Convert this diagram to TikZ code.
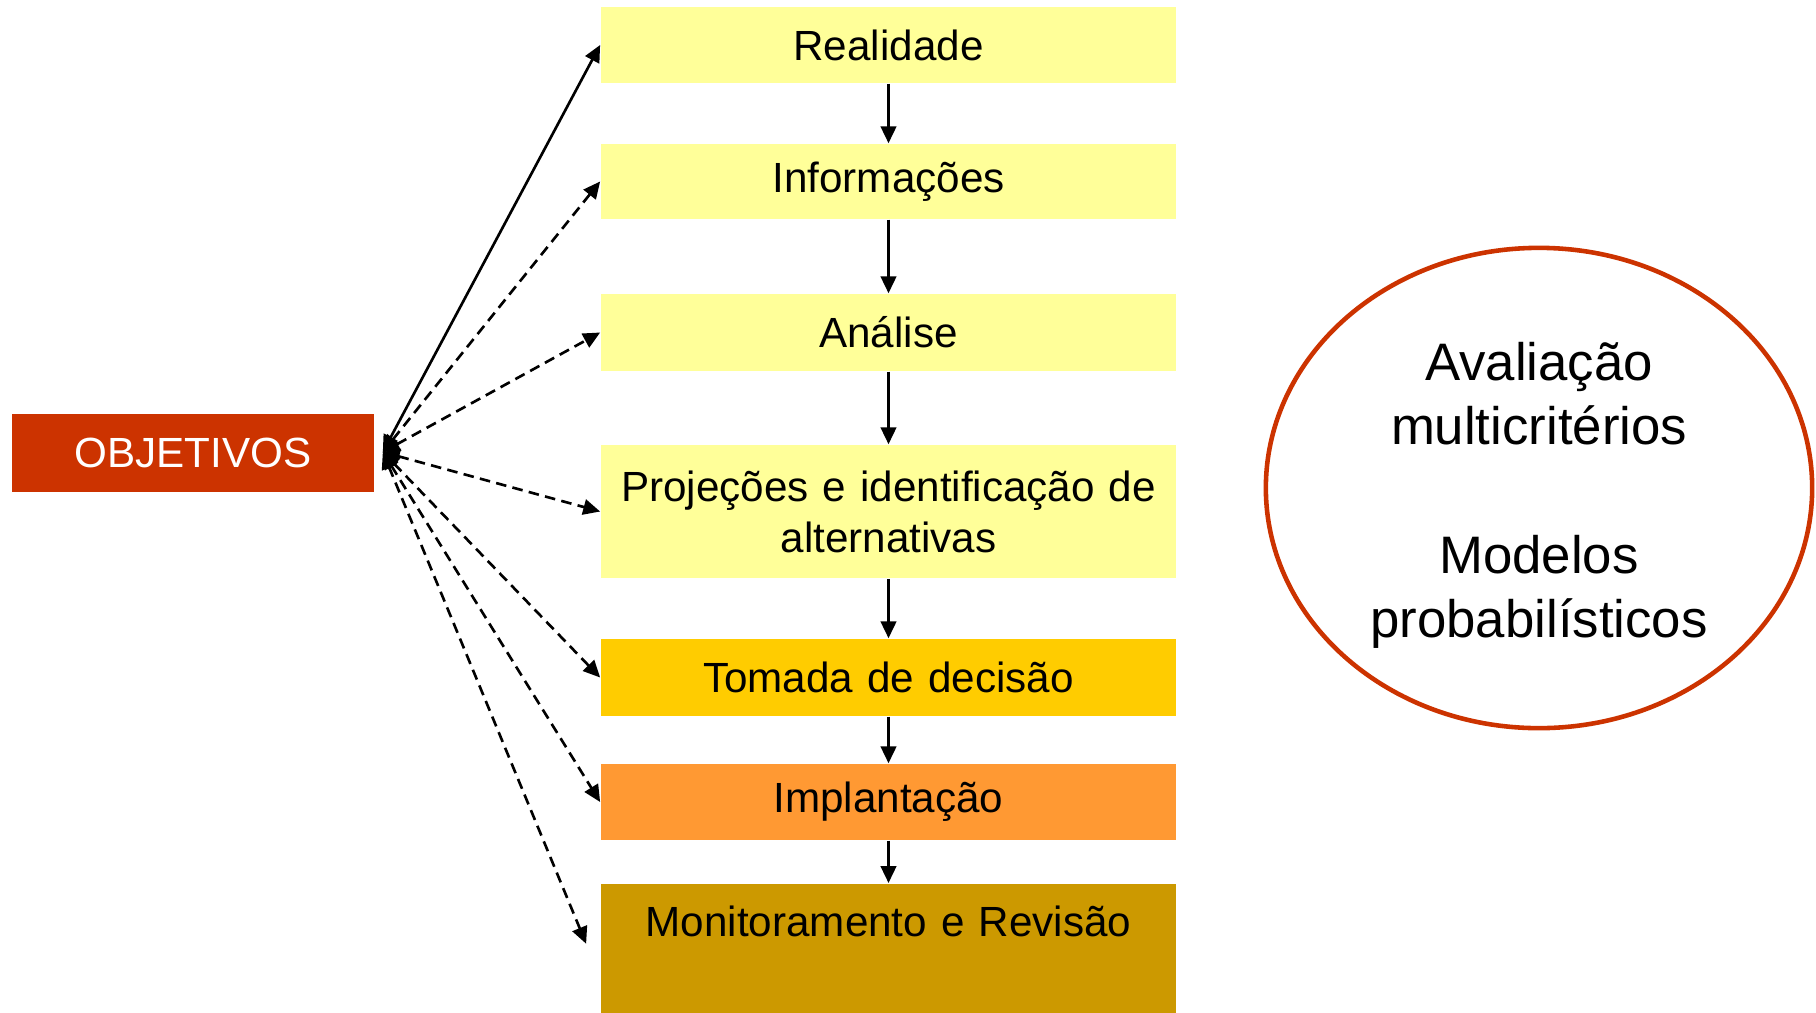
\documentclass[tikz,border=0pt]{standalone}
\usepackage{fontspec}
\setmainfont{Liberation Sans}
\usetikzlibrary{arrows.meta,shapes.geometric,calc}
\definecolor{amarelo}{HTML}{FFFF99}
\definecolor{ouro}{HTML}{FFCC00}
\definecolor{laranja}{HTML}{FF9933}
\definecolor{mostarda}{HTML}{CC9900}
\definecolor{telha}{HTML}{CC3300}
\tikzset{
  etapa/.style={fill=#1, minimum width=5.75cm, text width=5.5cm, align=center, inner sep=0pt,
    font=\fontsize{12pt}{14.5pt}\selectfont},
  ligacao/.style={line width=0.75pt},
}
\begin{document}
\begin{tikzpicture}[>={Triangle[length=4.8pt,width=4.4pt]}, x=0.01cm, y=-0.01cm]
\useasboundingbox (0,0) rectangle (1816,1012);
% etapas do processo
\node[etapa=amarelo, minimum height=0.76cm] (real) at (888.5,45) {Realidade};
\node[etapa=amarelo, minimum height=0.75cm] (info) at (888.5,181.5) {Informações};
\node[etapa=amarelo, minimum height=0.77cm] (anal) at (888.5,332.5) {Análise};
\node[etapa=amarelo, minimum height=1.33cm] (proj) at (888.5,511.5) {Projeções e identificação de\\alternativas};
\node[etapa=ouro, minimum height=0.77cm] (toma) at (888.5,677.5) {Tomada de decisão};
\node[etapa=laranja, minimum height=0.76cm] (impl) at (888.5,802) {Implantação};
\node[etapa=mostarda, anchor=north, inner ysep=0.23cm, text height=0.30cm, text depth=0.53cm] (moni) at (888.5,883) {Monitoramento e Revisão};

\node[fill=telha, text=white, minimum width=3.62cm, minimum height=0.77cm, inner sep=0pt,
  font=\fontsize{12pt}{14.5pt}\selectfont] (obj) at (193,453) {OBJETIVOS};
\coordinate (hub) at ($(obj.east)+(8,-1)$);

\foreach \a/\b in {real/info,info/anal,anal/proj,proj/toma,toma/impl,impl/moni}
{
    \draw[->, ligacao] (\a) -- (\b);
}

\draw[<->, ligacao] (hub) -- (real.west);
\foreach \b in {info,anal,proj,toma,impl}
{
    \draw[<->, ligacao, dash pattern=on 3pt off 1.8pt] (hub) -- (\b.west);
}
\draw[<->, ligacao, dash pattern=on 3pt off 1.8pt] (hub) -- ($(moni.west)+(-14,-4.5)$);

\node[ellipse, draw=telha, line width=1.3pt, minimum width=5.46cm, minimum height=4.8cm,
  inner sep=0pt, align=center, font=\fontsize{15pt}{18.3pt}\selectfont] (aval) at (1539,488)
  {\rule{0pt}{15pt}Avaliação\\multicritérios\\[18.3pt]Modelos\\probabilísticos};
\end{tikzpicture}
\end{document}
